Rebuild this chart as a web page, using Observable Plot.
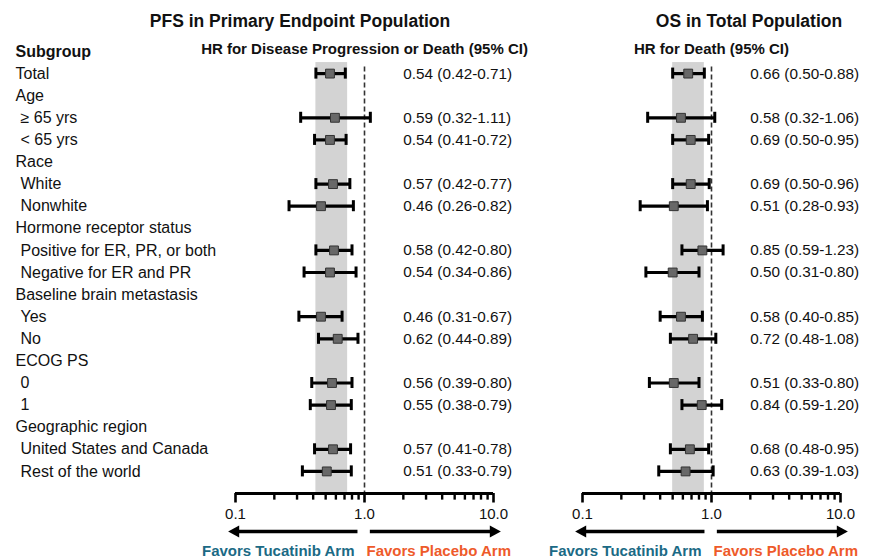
<!DOCTYPE html>
<html>
<head>
<meta charset="utf-8">
<script src="https://cdn.jsdelivr.net/npm/d3@7"></script>
<script src="https://cdn.jsdelivr.net/npm/@observablehq/plot@0.6"></script>
<style>
  body { margin: 0; background: #fff; }
  #chart { position: relative; width: 877px; height: 559px; font-family: "Liberation Sans", Arial, sans-serif; color: #111; }
  #chart .panel { position: absolute; top: 0; }
  #chart .title { position: absolute; top: 12px; font-size: 17.5px; line-height: 18px; font-weight: bold; white-space: nowrap; transform: translateX(-50%); }
</style>
</head>
<body>
<div id="chart"></div>
<script>
// ---- data ----
const rowLabels = ["Total", "Age", "≥ 65 yrs", "< 65 yrs", "Race", "White", "Nonwhite",
  "Hormone receptor status", "Positive for ER, PR, or both", "Negative for ER and PR",
  "Baseline brain metastasis", "Yes", "No", "ECOG PS", "0", "1",
  "Geographic region", "United States and Canada", "Rest of the world"];
const rowIndented = [false, false, true, true, false, true, true, false, true, true,
  false, true, true, false, true, true, false, true, true];
const estimateSubgroups = ["Total", "≥ 65 yrs", "< 65 yrs", "White", "Nonwhite",
  "Positive for ER, PR, or both", "Negative for ER and PR", "Yes", "No", "0", "1",
  "United States and Canada", "Rest of the world"];

const pfsHR = [0.54, 0.59, 0.54, 0.57, 0.46, 0.58, 0.54, 0.46, 0.62, 0.56, 0.55, 0.57, 0.51];
const pfsLo = [0.42, 0.32, 0.41, 0.42, 0.26, 0.42, 0.34, 0.31, 0.44, 0.39, 0.38, 0.41, 0.33];
const pfsHi = [0.71, 1.11, 0.72, 0.77, 0.82, 0.80, 0.86, 0.67, 0.89, 0.80, 0.79, 0.78, 0.79];

const osHR = [0.66, 0.58, 0.69, 0.69, 0.51, 0.85, 0.50, 0.58, 0.72, 0.51, 0.84, 0.68, 0.63];
const osLo = [0.50, 0.32, 0.50, 0.50, 0.28, 0.59, 0.31, 0.40, 0.48, 0.33, 0.59, 0.48, 0.39];
const osHi = [0.88, 1.06, 0.95, 0.96, 0.93, 1.23, 0.80, 0.85, 1.08, 0.80, 1.20, 0.95, 1.03];

const pfsBand = [0.42, 0.74];
const osBand = [0.50, 0.88];

const majorTicks = [0.1, 1, 10];
const minorTicks = [0.2, 0.3, 0.4, 0.5, 0.6, 0.7, 0.8, 0.9, 2, 3, 4, 5, 6, 7, 8, 9];

const panelTitles = ["PFS in Primary Endpoint Population", "OS in Total Population"];
const panelSubtitles = ["HR for Disease Progression or Death (95% CI)", "HR for Death (95% CI)"];
const subgroupHeader = "Subgroup";
const favorLabels = ["Favors Tucatinib Arm", "Favors Placebo Arm"];

// ---- drawing ----
const FONT = '"Liberation Sans", Arial, sans-serif';
const TEAL = "#1b6a85";
const ORANGE = "#ee5a2a";
const TXT = 16;

const leftTri = { draw(ctx, size) { const h = Math.sqrt(size) * 1.25, w = h * 0.55;
  ctx.moveTo(-h * 2 / 3, 0); ctx.lineTo(h / 3, -w); ctx.lineTo(h / 3, w); ctx.closePath(); } };
const rightTri = { draw(ctx, size) { const h = Math.sqrt(size) * 1.25, w = h * 0.55;
  ctx.moveTo(h * 2 / 3, 0); ctx.lineTo(-h / 3, -w); ctx.lineTo(-h / 3, w); ctx.closePath(); } };

const fmt = v => v.toFixed(2);

function panel({hr, lo, hi, band, width, marginLeft, marginRight, showLabels}, subtitle) {
  const rows = hr.map((h, i) => ({row: rowLabels.indexOf(estimateSubgroups[i]), hr: h, lo: lo[i], hi: hi[i]}));
  const labelRows = rowLabels.map((t, i) => ({t, i, indent: rowIndented[i]}));
  const marks = [
    Plot.rect([band], {x1: d => d[0], x2: d => d[1], y1: () => -0.5, y2: () => 19, fill: "#d3d3d3"}),
    Plot.ruleX([1], {x: d => d, y1: () => -0.3, y2: () => 19, stroke: "#333", strokeWidth: 1.6, strokeDasharray: "5,3"}),
    Plot.ruleY(rows, {y: "row", x1: "lo", x2: "hi", stroke: "#000", strokeWidth: 3.2}),
    Plot.ruleX(rows, {x: "lo", y1: d => d.row - 0.25, y2: d => d.row + 0.25, stroke: "#000", strokeWidth: 3}),
    Plot.ruleX(rows, {x: "hi", y1: d => d.row - 0.25, y2: d => d.row + 0.25, stroke: "#000", strokeWidth: 3}),
    Plot.dot(rows, {x: "hr", y: "row", symbol: "square", r: 5, fill: "#686868", stroke: "#333", strokeWidth: 1}),
    Plot.text(rows, {x: () => 2, y: "row", text: d => `${fmt(d.hr)} (${fmt(d.lo)}-${fmt(d.hi)})`, textAnchor: "start", fontSize: 15.3, fill: "#111"}),
    // subtitle
    Plot.text([subtitle], {x: () => 1, y: () => -1, dy: -2, text: d => d, fontSize: 15, fontWeight: "bold", fill: "#111"}),
    // axis
    Plot.ruleY([19], {y: d => d, x1: () => 0.1, x2: () => 10, stroke: "#000", strokeWidth: 2.8}),
    Plot.ruleX(majorTicks, {x: d => d, y1: () => 19, y2: () => 19.43, stroke: "#000", strokeWidth: 2.6}),
    Plot.ruleX(minorTicks, {x: d => d, y1: () => 19, y2: () => 19.3, stroke: "#000", strokeWidth: 2.4}),
    Plot.text(majorTicks, {x: d => d, y: () => 19.95, text: d => d.toFixed(1), fontSize: 15, fill: "#111"}),
    // arrows
    Plot.ruleY([0], {y: () => 20.72, x1: () => 0.1, x2: () => 0.89, stroke: "#000", strokeWidth: 3.4}),
    Plot.ruleY([0], {y: () => 20.72, x1: () => 1.11, x2: () => 10, stroke: "#000", strokeWidth: 3.4}),
    Plot.dot([0], {x: () => 0.1, y: () => 20.72, symbol: leftTri, r: 5, fill: "#000", stroke: "none"}),
    Plot.dot([0], {x: () => 10, y: () => 20.72, symbol: rightTri, r: 5, fill: "#000", stroke: "none"}),
    Plot.text([favorLabels[0]], {x: () => 1, y: () => 21.62, dx: -10, text: d => d, textAnchor: "end", fontSize: 15, fontWeight: "bold", fill: TEAL}),
    Plot.text([favorLabels[1]], {x: () => 1, y: () => 21.62, dx: 2, text: d => d, textAnchor: "start", fontSize: 15, fontWeight: "bold", fill: ORANGE})
  ];
  if (showLabels) {
    marks.push(
      Plot.text([subgroupHeader], {x: () => 0.1, y: () => -1, dx: -220, text: d => d, textAnchor: "start", fontSize: TXT, fontWeight: "bold", fill: "#111"}),
      Plot.text(labelRows.filter(d => !d.indent), {x: () => 0.1, y: "i", dx: -220, text: "t", textAnchor: "start", fontSize: TXT, fill: "#111"}),
      Plot.text(labelRows.filter(d => d.indent), {x: () => 0.1, y: "i", dx: -215, text: "t", textAnchor: "start", fontSize: TXT, fill: "#111"})
    );
  }
  return Plot.plot({
    width, height: 559,
    marginLeft, marginRight, marginTop: 51, marginBottom: 66,
    x: {type: "log", domain: [0.1, 10], axis: null},
    y: {domain: [-1, 19], reverse: true, axis: null},
    style: {fontFamily: FONT, background: "transparent", overflow: "visible"},
    marks
  });
}

const chart = document.getElementById("chart");
const specs = [
  {hr: pfsHR, lo: pfsLo, hi: pfsHi, band: pfsBand, width: 545, marginLeft: 235, marginRight: 52, showLabels: true, left: 0, titleCenter: 300},
  {hr: osHR, lo: osLo, hi: osHi, band: osBand, width: 332, marginLeft: 37, marginRight: 37, showLabels: false, left: 545, titleCenter: 749}
];
specs.forEach((s, k) => {
  const wrap = document.createElement("div");
  wrap.className = "panel";
  wrap.style.left = s.left + "px";
  wrap.appendChild(panel(s, panelSubtitles[k]));
  chart.appendChild(wrap);
});
specs.forEach((s, k) => {
  const t = document.createElement("div");
  t.className = "title";
  t.style.left = s.titleCenter + "px";
  t.textContent = panelTitles[k];
  chart.appendChild(t);
});
</script>
</body>
</html>
